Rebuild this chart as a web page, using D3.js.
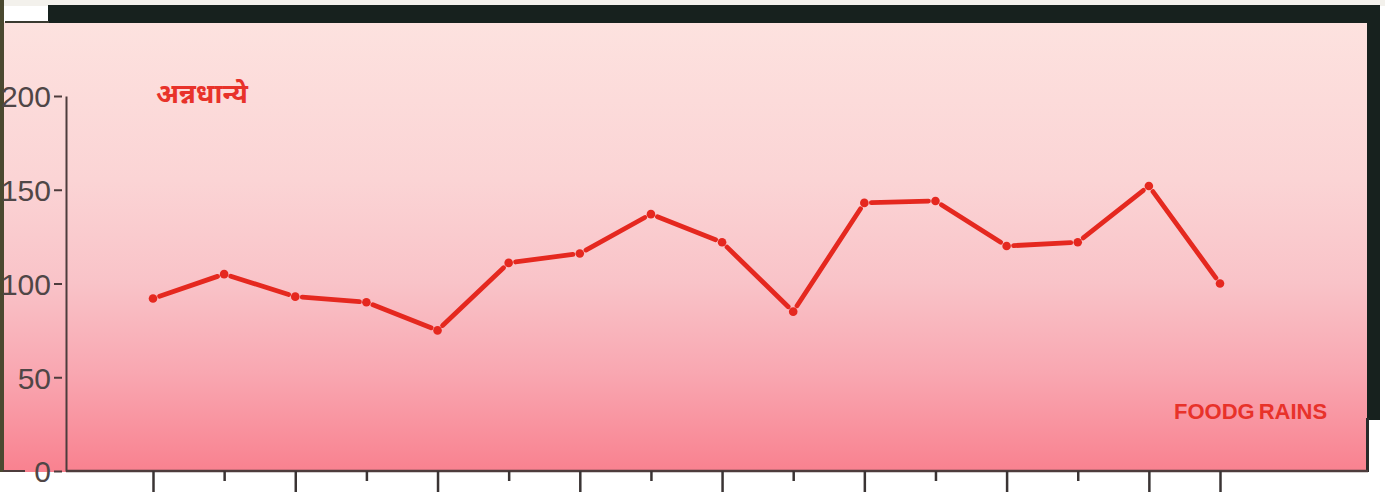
<!DOCTYPE html>
<html>
<head>
<meta charset="utf-8">
<script src="https://cdn.jsdelivr.net/npm/d3@7"></script>
<style>
  html, body { margin: 0; padding: 0; background: #ffffff; }
  svg { display: block; }
</style>
</head>
<body>
<script>
// ---- data ----
const categories = ["1","2","3","4","5","6","7","8","9","10","11","12","13","14","15","16"];
const foodgrains = [92, 105, 93, 90, 75, 111, 116, 137, 122, 85, 143, 144, 120, 122, 152, 100];
const yTicks = [0, 50, 100, 150, 200];
const labelMr = "अन्नधान्ये";
const labelEn = "FOODGRAINS";

const W = 1385, H = 503;
const svg = d3.select("body").append("svg").attr("width", W).attr("height", H);

const defs = svg.append("defs");
const grad = defs.append("linearGradient").attr("id", "bg").attr("x1", 0).attr("y1", 0).attr("x2", 0).attr("y2", 1);
[[0, "#fde2df"], [0.35, "#fbd4d5"], [0.58, "#f9c3c8"], [0.78, "#f9a7b1"], [1, "#f9818f"]]
  .forEach(([o, c]) => grad.append("stop").attr("offset", o).attr("stop-color", c));

// backdrop
svg.append("rect").attr("x", 0).attr("y", 0).attr("width", W).attr("height", 6).attr("fill", "#f3f1ec");
svg.append("rect").attr("x", 0).attr("y", 22).attr("width", 1367).attr("height", 450).attr("fill", "url(#bg)");
svg.append("rect").attr("x", 48).attr("y", 5).attr("width", 1332).attr("height", 18).attr("fill", "#17211e");
svg.append("rect").attr("x", 1367).attr("y", 5).attr("width", 13).attr("height", 415).attr("fill", "#17211e");
svg.append("rect").attr("x", 1366).attr("y", 418).attr("width", 3).attr("height", 54).attr("fill", "#2a2a2a");
svg.append("rect").attr("x", 5).attr("y", 21).attr("width", 44).attr("height", 2).attr("fill", "#3a3a30");
svg.append("rect").attr("x", 0).attr("y", 0).attr("width", 4).attr("height", 472).attr("fill", "#4a4930");

// scales
const x = d3.scalePoint().domain(categories).range([153, 1220]);
const y = d3.scaleLinear().domain([0, 200]).range([471, 96]);

const axisColor = "#4d3c3c";

// y axis
const gy = svg.append("g").attr("transform", "translate(66,0)")
  .call(d3.axisLeft(y).tickValues(yTicks).tickSize(12).tickPadding(3).tickSizeOuter(0));
gy.select(".domain").attr("stroke", axisColor).attr("stroke-width", 2);
gy.selectAll(".tick line").attr("stroke", axisColor).attr("stroke-width", 2).attr("x1", -4);
gy.selectAll(".tick text")
  .attr("fill", "#4f4646")
  .attr("font-family", "Liberation Sans, Arial, sans-serif")
  .attr("font-size", 30)
  .attr("dy", "0.36em");
// leading dash before the zero label
svg.append("line").attr("x1", 3).attr("x2", 25).attr("y1", y(0)).attr("y2", y(0))
  .attr("stroke", axisColor).attr("stroke-width", 2);

// x axis baseline
svg.append("line").attr("x1", 66).attr("x2", 1368).attr("y1", y(0)).attr("y2", y(0))
  .attr("stroke", axisColor).attr("stroke-width", 2.5);

// x axis ticks (no labels)
const gx = svg.append("g").attr("transform", `translate(0,${y(0)})`)
  .call(d3.axisBottom(x).tickSize(20).tickFormat(""));
gx.select(".domain").remove();
gx.selectAll(".tick line")
  .attr("stroke", "#3a3434").attr("stroke-width", 2.5)
  .attr("y2", (d, i) => (i % 2 === 0 || i === categories.length - 1) ? 21 : 10);

// line segments with small gaps at the points
const pts = categories.map((c, i) => [x(c), y(foodgrains[i])]);
const gap = 7;
const segs = d3.pairs(pts).map(([a, b]) => {
  const dx = b[0] - a[0], dy = b[1] - a[1], L = Math.hypot(dx, dy);
  const ux = dx / L, uy = dy / L;
  return [[a[0] + ux * gap, a[1] + uy * gap], [b[0] - ux * gap, b[1] - uy * gap]];
});
svg.append("g").selectAll("line").data(segs).join("line")
  .attr("x1", d => d[0][0]).attr("y1", d => d[0][1])
  .attr("x2", d => d[1][0]).attr("y2", d => d[1][1])
  .attr("stroke", "#e5281f").attr("stroke-width", 4.8).attr("stroke-linecap", "round");
svg.append("g").selectAll("circle").data(pts).join("circle")
  .attr("cx", d => d[0]).attr("cy", d => d[1]).attr("r", 4.3)
  .attr("fill", "#e5281f");

// labels
svg.append("text").attr("x", 156).attr("y", 103)
  .attr("font-family", "Noto Sans Devanagari, Noto Sans, Lohit Devanagari, sans-serif")
  .attr("font-weight", "bold").attr("font-size", 27)
  .attr("fill", "#e8322a").text(labelMr);

const t = svg.append("text").attr("x", 1174).attr("y", 419)
  .attr("font-family", "Liberation Sans, Arial, sans-serif")
  .attr("font-weight", "bold").attr("font-size", 22)
  .attr("fill", "#e8322a");
t.append("tspan").text(labelEn.slice(0, 5));
t.append("tspan").attr("dx", 4).text(labelEn.slice(5));
</script>
</body>
</html>
